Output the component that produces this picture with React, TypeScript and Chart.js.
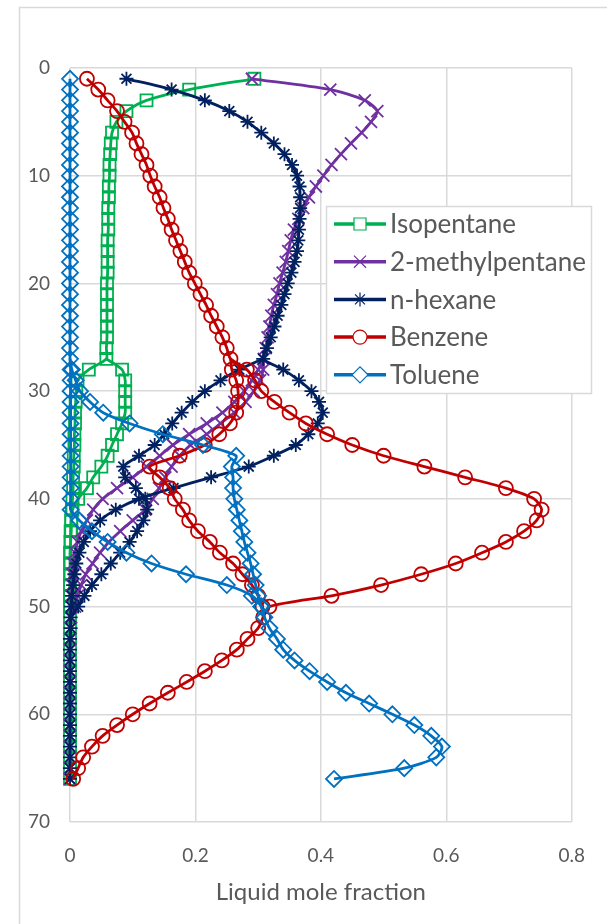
import React, { useEffect, useRef } from "react";
import { Chart, registerables } from "chart.js";
import { drawPoint } from "chart.js/helpers";

Chart.register(...registerables);

// Stage numbers (column stages, top to bottom)
const stages = [
  1, 2, 3, 4, 5, 6, 7, 8, 9, 10, 11, 12, 13, 14, 15, 16, 17, 18, 19, 20, 21, 22,
  23, 24, 25, 26, 27, 28, 29, 30, 31, 32, 33, 34, 35, 36, 37, 38, 39, 40, 41, 42,
  43, 44, 45, 46, 47, 48, 49, 50, 51, 52, 53, 54, 55, 56, 57, 58, 59, 60, 61, 62,
  63, 64, 65, 66,
];
// Stages of the parallel (prefractionator) section
const sideStages = [
  28, 29, 30, 31, 32, 33, 34, 35, 36, 37, 38, 39, 40, 41, 42, 43, 44, 45, 46, 47,
  48, 49, 50,
];

const isopentane = [
  0.294, 0.19, 0.122, 0.09, 0.074, 0.067, 0.065, 0.064, 0.063, 0.063, 0.062, 0.062,
  0.061, 0.061, 0.061, 0.06, 0.06, 0.06, 0.06, 0.059, 0.059, 0.059, 0.059, 0.059,
  0.059, 0.058, 0.058,
  0.03, 0.012, 0.01, 0.009, 0.008, 0.008, 0.007, 0.007, 0.006, 0.006, 0.005, 0.005,
  0.004, 0.003, 0.002, 0.002, 0.001, 0.001, 0.001, 0.001, 0, 0, 0,
  0, 0, 0, 0, 0, 0, 0, 0, 0, 0, 0, 0, 0, 0, 0, 0,
];
const isopentaneSide = [
  0.083, 0.088, 0.088, 0.088, 0.088, 0.083, 0.075, 0.067, 0.06, 0.05, 0.037, 0.027,
  0.013, 0.004, 0.002, 0.001, 0.001, 0, 0, 0, 0, 0, 0,
];

const methylpentane = [
  0.29, 0.415, 0.47, 0.49, 0.48, 0.465, 0.448, 0.432, 0.417, 0.404, 0.392, 0.381,
  0.372, 0.364, 0.357, 0.352, 0.348, 0.344, 0.339, 0.334, 0.33, 0.325, 0.321, 0.318,
  0.315, 0.312, 0.309,
  0.3, 0.29, 0.278, 0.262, 0.243, 0.218, 0.19, 0.164, 0.143, 0.122, 0.1, 0.075,
  0.052, 0.037, 0.027, 0.018, 0.012, 0.008, 0.005, 0.004, 0.003, 0.002, 0.002,
  0.002, 0.001, 0.001, 0, 0, 0, 0, 0, 0, 0, 0, 0, 0, 0, 0, 0,
];
const methylpentaneSide = [
  0.308, 0.303, 0.293, 0.28, 0.262, 0.24, 0.218, 0.192, 0.175, 0.162, 0.152, 0.142,
  0.132, 0.12, 0.1, 0.08, 0.062, 0.048, 0.036, 0.025, 0.018, 0.012, 0.008,
];

const hexane = [
  0.09, 0.162, 0.215, 0.254, 0.283, 0.305, 0.325, 0.342, 0.354, 0.362, 0.366, 0.367,
  0.367, 0.366, 0.365, 0.364, 0.362, 0.358, 0.353, 0.347, 0.342, 0.337, 0.331, 0.326,
  0.32, 0.314, 0.308,
  0.34, 0.365, 0.385, 0.397, 0.403, 0.395, 0.38, 0.36, 0.325, 0.285, 0.225, 0.165,
  0.11, 0.073, 0.048, 0.032, 0.022, 0.015, 0.01, 0.007, 0.005, 0.003, 0.002,
  0.001, 0.001, 0, 0, 0, 0, 0, 0, 0, 0, 0, 0, 0, 0, 0, 0,
];
const hexaneSide = [
  0.27, 0.24, 0.215, 0.195, 0.178, 0.163, 0.15, 0.135, 0.11, 0.085, 0.088, 0.105,
  0.12, 0.123, 0.117, 0.107, 0.095, 0.08, 0.065, 0.05, 0.035, 0.023, 0.013,
];

const benzene = [
  0.027, 0.045, 0.06, 0.075, 0.087, 0.099, 0.106, 0.114, 0.122, 0.128, 0.135, 0.143,
  0.149, 0.156, 0.162, 0.169, 0.176, 0.183, 0.19, 0.199, 0.208, 0.217, 0.225, 0.234,
  0.243, 0.25, 0.256,
  0.282, 0.295, 0.305, 0.326, 0.35, 0.376, 0.41, 0.45, 0.5, 0.565, 0.63, 0.695, 0.74,
  0.752, 0.744, 0.724, 0.695, 0.657, 0.615, 0.56, 0.496, 0.417, 0.318,
  0.308, 0.3, 0.283, 0.266, 0.242, 0.215, 0.186, 0.156, 0.127, 0.1, 0.075, 0.052,
  0.035, 0.021, 0.013, 0.005,
];
const benzeneSide = [
  0.258, 0.265, 0.268, 0.268, 0.265, 0.255, 0.238, 0.215, 0.175, 0.127, 0.143, 0.159,
  0.167, 0.18, 0.19, 0.204, 0.223, 0.239, 0.26, 0.275, 0.29, 0.3, 0.307,
];

const toluene = [
  0, 0, 0, 0, 0, 0, 0, 0, 0, 0, 0, 0, 0, 0, 0, 0, 0, 0, 0, 0, 0, 0, 0, 0, 0, 0, 0,
  0.001, 0.001, 0.001, 0.001, 0.001, 0.001, 0.001, 0.001, 0.001, 0.001, 0.001, 0.001,
  0.001, 0.001, 0.015, 0.035, 0.06, 0.09, 0.13, 0.185, 0.25, 0.29, 0.305,
  0.31, 0.318, 0.33, 0.34, 0.358, 0.382, 0.41, 0.44, 0.477, 0.514, 0.549, 0.576, 0.593,
  0.584, 0.533, 0.421,
];
const tolueneSide = [
  0.003, 0.009, 0.016, 0.032, 0.053, 0.095, 0.148, 0.212, 0.265, 0.258, 0.26, 0.26,
  0.262, 0.266, 0.27, 0.274, 0.278, 0.283, 0.288, 0.292, 0.296, 0.3, 0.305,
];

const xTicks = [0, 0.2, 0.4, 0.6, 0.8];
const yTicks = [0, 10, 20, 30, 40, 50, 60, 70];

type Comp = {
  name: string;
  main: number[];
  side: number[];
  color: string;
  style: string;
  radius: number;
};

const components: Comp[] = [
  { name: "Isopentane", main: isopentane, side: isopentaneSide, color: "#00B050", style: "rect", radius: 8.5 },
  { name: "2-methylpentane", main: methylpentane, side: methylpentaneSide, color: "#7030A0", style: "crossRot", radius: 8.5 },
  { name: "n-hexane", main: hexane, side: hexaneSide, color: "#002060", style: "star", radius: 7 },
  { name: "Benzene", main: benzene, side: benzeneSide, color: "#C00000", style: "circle", radius: 7 },
  { name: "Toluene", main: toluene, side: tolueneSide, color: "#0070C0", style: "rectRot", radius: 8 },
];

const FONT = "Lato, 'Open Sans', sans-serif";
const TEXT = "#595959";
const GRID = "#d9d9d9";

const frame = {
  id: "frame",
  beforeDraw(chart: any) {
    const { ctx } = chart;
    ctx.save();
    ctx.fillStyle = "#ffffff";
    ctx.fillRect(0, 0, chart.width, chart.height);
    ctx.strokeStyle = GRID;
    ctx.lineWidth = 1.5;
    ctx.strokeRect(19.5, 7.5, chart.width + 50, chart.height + 50);
    ctx.restore();
  },
};

const boxLegend = {
  id: "boxLegend",
  afterDraw(chart: any) {
    const { ctx, chartArea } = chart;
    const left = chartArea.left + 256;
    const top = chartArea.top + 138;
    const w = 266;
    const h = 188;
    ctx.save();
    ctx.fillStyle = "#ffffff";
    ctx.fillRect(left, top, w, h);
    ctx.strokeStyle = GRID;
    ctx.lineWidth = 1.5;
    ctx.strokeRect(left + 0.5, top + 0.5, w - 1, h - 1);
    ctx.font = `26px ${FONT}`;
    ctx.textBaseline = "middle";
    ctx.textAlign = "left";
    components.forEach((c, i) => {
      const y = top + 18 + i * 37.7;
      ctx.strokeStyle = c.color;
      ctx.lineWidth = 3.5;
      ctx.beginPath();
      ctx.moveTo(left + 8, y);
      ctx.lineTo(left + 60, y);
      ctx.stroke();
      ctx.lineWidth = 1.2;
      ctx.fillStyle = "#ffffff";
      drawPoint(ctx, { pointStyle: c.style as any, radius: c.radius, rotation: 0, borderWidth: 1.2 } as any, left + 34, y);
      ctx.fillStyle = TEXT;
      ctx.fillText(c.name, left + 64, y + 1);
    });
    ctx.restore();
  },
};

export default function App() {
  const ref = useRef<HTMLCanvasElement | null>(null);

  useEffect(() => {
    if (!ref.current) return;
    const datasets: any[] = [];
    components.forEach((c, i) => {
      const common = {
        label: c.name,
        borderColor: c.color,
        pointBorderColor: c.color,
        backgroundColor: "rgba(0,0,0,0)",
        pointBackgroundColor: "rgba(0,0,0,0)",
        pointStyle: c.style,
        pointRadius: c.radius,
        pointBorderWidth: 1.8,
        borderWidth: 2.8,
        showLine: true,
        tension: 0.25,
        clip: false,
        order: 10 - i * 2,
      };
      datasets.push({
        ...common,
        data: c.main.map((v, k) => ({ x: v, y: stages[k] })),
      });
      const sideData = [
        { x: c.main[26], y: stages[26] },
        ...c.side.map((v, k) => ({ x: v, y: sideStages[k] })),
        { x: c.main[50], y: stages[50] },
      ];
      datasets.push({
        ...common,
        order: 9 - i * 2,
        data: sideData,
        pointRadius: sideData.map((_, k) => (k === 0 || k === sideData.length - 1 ? 0 : c.radius)),
      });
    });

    const chart = new Chart(ref.current, {
      type: "scatter",
      data: { datasets },
      options: {
        responsive: false,
        animation: false,
        layout: { padding: { left: 20, right: 34, top: 68, bottom: 0 } },
        plugins: {
          legend: { display: false },
          tooltip: { enabled: false },
        },
        scales: {
          x: {
            type: "linear",
            min: 0,
            max: 0.8,
            afterFit: (s: any) => {
              s.height = 102;
            },
            afterBuildTicks: (s: any) => {
              s.ticks = xTicks.map((v) => ({ value: v }));
            },
            ticks: {
              color: TEXT,
              font: { family: FONT, size: 19 },
              padding: 22,
              callback: (v: any) => String(Number(Number(v).toFixed(1))),
            },
            grid: { color: GRID, lineWidth: 1.5, drawTicks: false },
            border: { display: false },
            title: {
              display: true,
              text: "Liquid mole fraction",
              color: TEXT,
              font: { family: FONT, size: 24 },
              padding: { top: 0, bottom: 17 },
            },
          },
          y: {
            type: "linear",
            reverse: true,
            min: 0,
            max: 70,
            afterFit: (s: any) => {
              s.width = 50;
            },
            afterBuildTicks: (s: any) => {
              s.ticks = yTicks.map((v) => ({ value: v }));
            },
            ticks: {
              color: TEXT,
              font: { family: FONT, size: 19 },
              padding: 20,
            },
            grid: { color: GRID, lineWidth: 1.5, drawTicks: false },
            border: { display: false },
          },
        },
      },
      plugins: [frame, boxLegend],
    });
    return () => chart.destroy();
  }, []);

  return (
    <div style={{ position: "absolute", left: 0, top: 0, width: 607, height: 924 }}>
      <canvas ref={ref} width={607} height={924} style={{ width: 607, height: 924, display: "block" }} />
    </div>
  );
}
